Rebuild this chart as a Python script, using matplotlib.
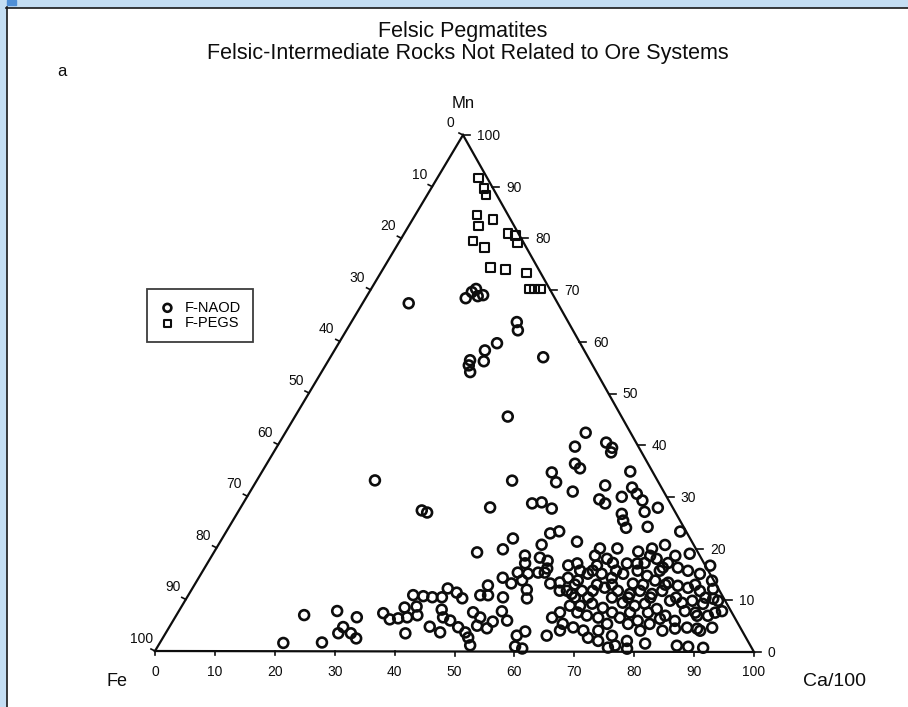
import matplotlib
matplotlib.use("Agg")
import matplotlib.pyplot as plt
import numpy as np
from matplotlib.patches import Rectangle

plt.rcParams['font.family'] = ['Liberation Sans', 'DejaVu Sans']

# ---------------- data (ternary %, Fe = 100 - Ca - Mn) ----------------
naod_ca = [7.7, 16.7, 17.1, 17.5, 18.5, 19.3, 27.6, 28.6, 26.4, 25.1, 26.0, 23.6, 23.9, 24.8,
           35.5, 35.5, 19.7, 42.6, 48.4, 50.1, 30.5, 31.6, 41.6, 48.2, 49.7, 52.0, 50.1, 49.7,
           54.5, 56.0, 56.3, 51.4, 52.7, 61.4, 58.6, 63.3, 64.7, 66.3, 67.8, 53.8, 62.5, 59.0,
           60.4, 69.6, 64.2, 65.1, 66.3, 69.8, 75.7, 48.5, 47.9, 43.9, 54.2, 55.5, 53.9, 59.5,
           66.9, 70.7, 74.5, 79.5,
           20.6, 21.3, 27.0, 26.4, 30.3, 28.8, 29.0, 30.9, 32.3, 34.3, 36.0, 37.3, 38.7, 40.2,
           37.3, 39.2, 40.0, 37.5, 39.3, 40.9, 42.5, 43.7, 44.7, 43.4, 45.7, 42.6, 44.5, 46.0,
           46.2, 48.2, 49.9, 50.9, 52.0, 49.2, 50.9, 51.2, 53.1, 53.4, 53.9, 55.7, 48.7, 50.0,
           49.0, 52.7, 50.7, 52.7, 58.8, 59.6, 61.0, 59.8, 52.7, 54.5, 56.1, 57.2, 54.2, 55.9,
           56.8, 52.2, 53.0, 54.9, 56.5, 57.2, 59.2, 60.7, 61.5, 62.7, 62.9, 63.7, 65.3, 63.8,
           65.5,
           60.4, 61.7, 65.2, 66.2, 67.6, 70.0, 71.7, 72.9, 74.5, 76.4, 61.6, 63.5, 64.5, 66.8,
           68.9, 70.4, 73.0, 74.6, 76.4, 63.8, 65.2, 67.0, 68.7, 71.2, 73.5, 74.9, 77.2, 78.6,
           64.7, 66.4, 68.2, 70.4, 73.2, 75.5, 77.0, 79.5, 67.4, 68.5, 70.6, 72.7, 74.2, 76.2,
           77.5, 79.8, 81.0, 70.9, 72.9, 74.7, 77.7, 81.0, 76.2, 78.5, 75.2, 86.5, 88.5, 91.1,
           76.8, 78.9, 80.9, 83.2, 85.9, 78.8, 80.7, 82.6, 84.9, 86.9, 87.9, 80.9, 83.1, 84.6,
           86.7, 90.6, 81.6, 83.7, 84.4, 86.9, 88.7, 84.5, 86.4, 88.2, 90.6, 84.1, 88.9,
           62.9, 65.0, 68.9, 72.5, 76.2, 63.4, 67.1, 69.6, 74.8, 78.5, 83.5,
           64.7, 66.9, 70.9, 73.6, 77.3, 81.6, 86.5, 66.6, 72.4, 75.4, 78.4, 86.3, 89.6,
           69.4, 71.9, 78.9, 82.6, 88.9, 63.9, 73.1, 77.3, 64.0, 72.7]
naod_mn = [67.4, 68.4, 69.6, 70.2, 68.8, 69.0, 63.8, 62.2, 59.7, 58.3, 56.2, 56.4, 55.4, 54.1,
           57.0, 45.5, 33.1, 33.1, 34.7, 32.8, 27.3, 26.9, 27.9, 28.7, 28.9, 27.7, 42.4, 39.7,
           40.5, 39.5, 38.6, 36.4, 35.5, 34.9, 32.2, 31.8, 30.6, 29.3, 27.1, 31.0, 30.0, 29.5,
           28.7, 27.9, 26.7, 25.4, 24.0, 24.2, 23.3, 21.9, 19.8, 19.2, 22.9, 23.3, 20.7, 21.3,
           20.0, 19.4, 20.7, 19.0,
           1.6, 7.0, 1.7, 7.8, 6.6, 3.5, 4.7, 3.5, 2.5, 7.4, 6.2, 6.4, 6.6, 7.0,
           8.5, 8.7, 3.5, 10.9, 10.7, 10.5, 10.5, 8.1, 6.6, 4.8, 3.7, 12.2, 11.4, 10.3,
           6.0, 4.7, 3.7, 2.7, 1.2, 7.6, 6.6, 5.0, 4.5, 5.8, 7.8, 6.0, 10.9, 10.9,
           12.8, 10.5, 14.3, 13.2, 3.1, 1.0, 0.6, 3.9, 15.3, 15.1, 15.3, 15.3, 13.8, 12.0,
           10.3, 18.6, 17.1, 18.2, 17.6, 16.1, 13.2, 13.4, 11.8, 11.8, 6.6, 7.6, 5.4, 3.1,
           4.1,
           16.7, 17.1, 16.7, 18.0, 17.2, 17.1, 17.1, 17.2, 18.0, 16.3, 14.3, 13.8, 15.1, 15.1,
           14.3, 15.1, 13.2, 14.7, 13.8, 11.2, 11.8, 11.8, 12.4, 11.8, 11.2, 11.8, 11.2, 11.8,
           8.9, 8.9, 9.3, 8.5, 9.5, 8.9, 9.3, 8.3, 4.7, 7.0, 6.6, 5.4, 6.6, 5.4,
           6.0, 5.4, 6.4, 2.7, 2.1, 3.1, 2.1, 1.6, 1.2, 0.6, 0.8, 1.2, 1.0, 0.8,
           17.2, 16.3, 15.7, 15.1, 13.8, 13.4, 12.8, 12.4, 11.8, 12.2, 10.3, 9.9, 9.5, 9.9,
           9.3, 7.9, 7.0, 6.0, 7.9, 7.0, 7.0, 4.5, 4.7, 4.5, 4.7, 16.7, 9.9,
           15.7, 15.7, 15.7, 15.7, 15.7, 13.0, 13.0, 13.0, 13.0, 13.0, 13.0,
           10.5, 10.5, 10.5, 10.5, 10.5, 10.5, 10.5, 7.6, 7.6, 7.6, 7.6, 7.6, 7.6,
           4.1, 4.1, 4.1, 4.1, 4.1, 18.6, 18.6, 18.6, 20.0, 20.0]
pegs_ca = [6.9, 8.8, 9.8, 10.3, 13.4, 11.7, 17.3, 18.8, 19.8, 12.2, 14.7, 17.8, 20.4, 24.3,
           26.4, 27.2, 28.2]
pegs_mn = [91.7, 89.7, 88.4, 84.5, 83.7, 82.4, 81.0, 80.6, 79.1, 79.5, 78.3, 74.4, 74.0, 73.3,
           70.2, 70.2, 70.2]

tick_values = [0, 10, 20, 30, 40, 50, 60, 70, 80, 90, 100]
series_labels = ["F-NAOD", "F-PEGS"]
title_lines = ["Felsic Pegmatites", "Felsic-Intermediate Rocks Not Related to Ore Systems"]
panel_label = "a"
apex_labels = {"Mn": "Mn", "Fe": "Fe", "Ca": "Ca/100"}

# ---------------- layout (pixel space of the 908x707 figure) ----------------
W, H = 908, 707
V_FE = (155.0, 651.0)
V_CA = (754.0, 652.0)
V_MN = (463.0, 135.0)
INK = "#0d0d0d"


def tern(ca, mn):
    ca = np.asarray(ca, dtype=float)
    mn = np.asarray(mn, dtype=float)
    fe = 100.0 - ca - mn
    x = (fe * V_FE[0] + ca * V_CA[0] + mn * V_MN[0]) / 100.0
    y = (fe * V_FE[1] + ca * V_CA[1] + mn * V_MN[1]) / 100.0
    return x, y


fig = plt.figure(figsize=(W / 100, H / 100), dpi=100)
ax = fig.add_axes([0, 0, 1, 1])
ax.set_xlim(0, W)
ax.set_ylim(H, 0)
ax.axis("off")

# scan frame (blue border)
ax.add_patch(Rectangle((0, 0), W, 7, color="#c4def3", zorder=0))
ax.add_patch(Rectangle((0, 0), 6, H, color="#c4def3", zorder=0))
ax.add_patch(Rectangle((7, 0), 9, 5, color="#4f8fd6", zorder=1))
ax.plot([6, W], [7.5, 7.5], color="#1a1a1a", lw=1.2, zorder=1)
ax.plot([6.5, 6.5], [7, H], color="#1a1a1a", lw=1.2, zorder=1)

# triangle
tri = [V_FE, V_CA, V_MN, V_FE]
ax.plot([p[0] for p in tri], [p[1] for p in tri], color=INK, lw=1.6,
        solid_joinstyle="miter", zorder=2)

lab_kw = dict(fontsize=10, color=INK)
for v in tick_values:
    # bottom axis (Ca)
    x, y = tern(v, 0)
    ax.plot([x, x], [y, y + 4], color=INK, lw=1.2)
    ax.text(x, 672, str(v), ha="center", va="center", **lab_kw)
    # right edge (Mn)
    x, y = tern(100 - v, v)
    ax.plot([x, x + 7], [y, y], color=INK, lw=1.2)
    ax.text(x + 14, y + 1, str(v), ha="left", va="center", **lab_kw)
    # left edge (Fe)
    x, y = tern(0, 100 - v)
    ax.plot([x, x - 4], [y, y - 2], color=INK, lw=1.2)
    ax.text(x - 13, y - 12, str(v), ha="center", va="center", **lab_kw)

# data
h1 = ax.scatter(*tern(naod_ca, naod_mn), s=50, marker="o", facecolors="none",
                edgecolors=INK, linewidths=1.9, zorder=3, label=series_labels[0])
h2 = ax.scatter(*tern(pegs_ca, pegs_mn), s=40, marker="s", facecolors="none",
                edgecolors=INK, linewidths=1.5, zorder=3, label=series_labels[1])

# titles and labels
ax.text(463, 31, title_lines[0], ha="center", va="center", fontsize=15.5, color=INK)
ax.text(468, 53, title_lines[1], ha="center", va="center", fontsize=15.5, color=INK)
ax.text(62, 72, panel_label, ha="center", va="center", fontsize=12, color=INK)
ax.text(463, 103, apex_labels["Mn"], ha="center", va="center", fontsize=12, color=INK)
ax.text(117, 682, apex_labels["Fe"], ha="center", va="center", fontsize=13, color=INK)
ax.text(835, 682, apex_labels["Ca"], ha="center", va="center", fontsize=14, color=INK)

# legend
leg = ax.legend(handles=[h1, h2], loc="upper left",
                bbox_to_anchor=(147 / W, 1 - 289 / H), bbox_transform=fig.transFigure,
                fontsize=10.5, frameon=True, fancybox=False, edgecolor=INK,
                borderpad=0.8, handletextpad=0.6, labelspacing=0.1, borderaxespad=0,
                handlelength=1.2, markerscale=0.8)
leg.get_frame().set_linewidth(1.3)

fig.savefig("out.png", dpi=100)
